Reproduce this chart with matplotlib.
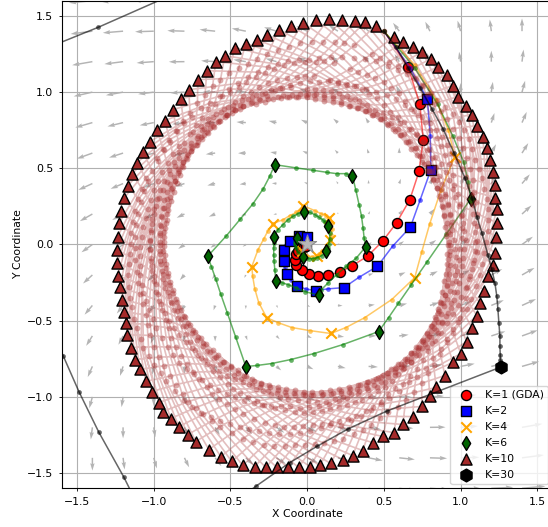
import matplotlib
matplotlib.use('agg')
import matplotlib.pyplot as plt
import numpy as np

plt.rcParams['font.size'] = 7.8

# linear vector field shown by the arrows: (u, v) = A @ (x, y)
field_A = [[1.0, -1.0], [0.72, 0.46]]

# K=1 (GDA)
k1_x = [0.5, 0.658, 0.734, 0.756, 0.729, 0.669, 0.582, 0.491, 0.393, 0.295, 0.213, 0.136,
        0.071, 0.012, -0.037, -0.070, -0.081, -0.075, -0.058, -0.038, -0.020, -0.006]
k1_y = [1.4, 1.163, 0.923, 0.688, 0.480, 0.295, 0.142, 0.021, -0.077, -0.138, -0.182, -0.202,
        -0.204, -0.191, -0.165, -0.132, -0.099, -0.065, -0.040, -0.024, -0.016, -0.012]

# K=2
k2_x = [0.5, 0.67, 0.783, 0.802, 0.806, 0.737, 0.673, 0.556, 0.458, 0.338, 0.239, 0.136, 0.059,
        -0.010, -0.065, -0.105, -0.131, -0.146, -0.151, -0.156, -0.153, -0.135, -0.113, -0.085,
        -0.055, -0.025, 0.0]
k2_y = [1.4, 1.16, 0.954, 0.715, 0.491, 0.295, 0.115, -0.012, -0.143, -0.215, -0.283, -0.291,
        -0.302, -0.292, -0.270, -0.235, -0.191, -0.150, -0.109, -0.072, -0.038, -0.005, 0.021,
        0.043, 0.055, 0.058, 0.050]

# K=4
k4_x = [0.5, 0.70, 0.84, 0.92, 0.962, 0.871, 0.799, 0.747, 0.701, 0.551, 0.375, 0.252, 0.154,
        0.017, -0.100, -0.192, -0.264, -0.316, -0.342, -0.355, -0.361, -0.320, -0.283, -0.255,
        -0.224, -0.157, -0.113, -0.070, -0.027, 0.050, 0.089, 0.121, 0.141, 0.160, 0.162, 0.157,
        0.147, 0.128, 0.095, 0.076, 0.061, 0.030, 0.0, -0.020, -0.035]
k4_y = [1.4, 1.18, 0.95, 0.75, 0.575, 0.356, 0.137, -0.047, -0.217, -0.361, -0.480, -0.545,
        -0.584, -0.565, -0.545, -0.512, -0.480, -0.381, -0.289, -0.210, -0.145, -0.033, 0.037,
        0.091, 0.137, 0.163, 0.190, 0.211, 0.255, 0.222, 0.203, 0.190, 0.175, 0.140, 0.100,
        0.062, 0.032, -0.014, -0.040, -0.060, -0.073, -0.080, -0.075, -0.062, -0.045]

# K=6
k6_x = [0.5, 0.70, 0.85, 0.95, 1.02, 1.05, 1.066, 0.907, 0.779, 0.677, 0.595, 0.530, 0.466,
        0.232, 0.043, -0.107, -0.231, -0.329, -0.400, -0.466, -0.520, -0.563, -0.596, -0.624,
        -0.648, -0.526, -0.435, -0.353, -0.287, -0.244, -0.211, -0.074, 0.038, 0.126, 0.191,
        0.250, 0.295, 0.317, 0.338, 0.354, 0.364, 0.371, 0.380, 0.321, 0.256, 0.191, 0.136,
        0.093, 0.078, -0.016, -0.074, -0.126, -0.166, -0.192, -0.205, -0.211, -0.216, -0.218,
        -0.218, -0.218, -0.218, -0.190, -0.157, -0.125, -0.092, -0.059, -0.022, 0.017, 0.050,
        0.078, 0.100, 0.119, 0.136, 0.147, 0.147, 0.141, 0.134, 0.128, 0.125, 0.095, 0.063,
        0.037, 0.010, -0.009, -0.029, -0.061, -0.074, -0.081, -0.081, -0.074, -0.068]
k6_y = [1.4, 1.16, 0.92, 0.71, 0.54, 0.41, 0.301, 0.069, -0.117, -0.266, -0.385, -0.480, -0.571,
        -0.657, -0.716, -0.755, -0.781, -0.794, -0.801, -0.608, -0.451, -0.327, -0.227, -0.146,
        -0.077, 0.058, 0.168, 0.268, 0.365, 0.448, 0.524, 0.503, 0.487, 0.474, 0.465, 0.465,
        0.452, 0.356, 0.262, 0.185, 0.109, 0.043, -0.016, -0.088, -0.143, -0.198, -0.252,
        -0.296, -0.333, -0.309, -0.283, -0.263, -0.250, -0.243, -0.237, -0.165, -0.110, -0.066,
        -0.022, 0.010, 0.050, 0.098, 0.131, 0.163, 0.185, 0.203, 0.216, 0.211, 0.196, 0.178,
        0.163, 0.146, 0.124, 0.078, 0.039, 0.006, -0.020, -0.033, -0.043, -0.073, -0.086,
        -0.093, -0.093, -0.086, -0.079, -0.047, -0.020, 0.0, 0.019, 0.032, 0.045]

# K=10: the triangles (one every 10 steps), listed clockwise round the ring
k10_x = [0.5, 0.565, 0.623, 0.688, 0.750, 0.808, 0.854, 0.910, 0.949, 0.982, 1.034, 1.073, 1.106,
         1.145, 1.171, 1.190, 1.210, 1.223, 1.223, 1.236, 1.236, 1.229, 1.223, 1.210, 1.177,
         1.151, 1.125, 1.106, 1.073, 1.040, 1.001, 0.949, 0.897, 0.841, 0.799, 0.747, 0.688,
         0.623, 0.565, 0.493, 0.428, 0.362, 0.297, 0.232, 0.154, 0.082, 0.017, -0.055, -0.126,
         -0.198, -0.270, -0.342, -0.420, -0.492, -0.563, -0.641, -0.726, -0.778, -0.837, -0.889,
         -0.941, -0.967, -1.013, -1.052, -1.091, -1.124, -1.150, -1.176, -1.183, -1.196, -1.209,
         -1.222, -1.235, -1.238, -1.241, -1.235, -1.228, -1.215, -1.196, -1.170, -1.143, -1.111,
         -1.072, -1.026, -0.980, -0.928, -0.876, -0.824, -0.772, -0.713, -0.654, -0.596, -0.537,
         -0.472, -0.400, -0.329, -0.264, -0.185, -0.107, -0.029, 0.056, 0.141, 0.226, 0.310,
         0.375, 0.447]
k10_y = [1.4, 1.364, 1.331, 1.299, 1.266, 1.220, 1.167, 1.115, 1.043, 0.970, 0.911, 0.852, 0.780,
         0.708, 0.636, 0.557, 0.478, 0.393, 0.308, 0.230, 0.144, 0.052, -0.053, -0.132, -0.210,
         -0.302, -0.381, -0.466, -0.545, -0.637, -0.716, -0.774, -0.860, -0.938, -0.997, -1.063,
         -1.129, -1.181, -1.234, -1.260, -1.300, -1.352, -1.385, -1.411, -1.437, -1.450, -1.457,
         -1.463, -1.463, -1.463, -1.463, -1.457, -1.450, -1.424, -1.392, -1.346, -1.293, -1.247,
         -1.195, -1.142, -1.096, -1.037, -0.965, -0.899, -0.820, -0.755, -0.676, -0.591, -0.512,
         -0.440, -0.361, -0.282, -0.204, -0.119, -0.033, 0.052, 0.138, 0.223, 0.302, 0.387, 0.465,
         0.537, 0.610, 0.675, 0.754, 0.813, 0.885, 0.957, 1.016, 1.082, 1.141, 1.200, 1.240,
         1.292, 1.318, 1.344, 1.377, 1.410, 1.436, 1.456, 1.476, 1.482, 1.476, 1.465, 1.458, 1.436]
# each block of 10 steps jumps about 29 triangles further round (~100 deg clockwise)
k10_jump = 29
# the 9 inner steps of a block: share of the turn done, and how far in (radius factor)
k10_turn = [0.16, 0.31, 0.45, 0.57, 0.68, 0.77, 0.85, 0.91, 0.96]
k10_depth = [0.89, 0.80, 0.745, 0.715, 0.71, 0.72, 0.755, 0.815, 0.90]

# K=30
k30_x = [0.5, 0.577, 0.656, 0.734, 0.812, 0.884, 0.956, 1.027, 1.073, 1.106, 1.138, 1.177, 1.203,
         1.223, 1.236, 1.243, 1.249, 1.256, 1.256, 1.258, 1.259, 1.259, 1.260, 1.260, 1.260,
         1.260, 1.260, 1.260, 1.260, 1.260, 1.260,
         0.517, 0.267, 0.065, -0.113, -0.335, -0.62, -0.998, -1.196, -1.359, -1.487, -1.591,
         -1.69, -1.80, -1.363, -0.80]
k30_y = [1.4, 1.299, 1.161, 1.030, 0.892, 0.761, 0.603, 0.439, 0.308, 0.183, 0.078, -0.066,
         -0.164, -0.250, -0.341, -0.426, -0.512, -0.603, -0.669, -0.722, -0.755, -0.775, -0.788,
         -0.795, -0.799, -0.801, -0.802, -0.803, -0.804, -0.804, -0.805,
         -1.094, -1.210, -1.324, -1.431, -1.587, -1.80, -1.923, -1.525, -1.230, -0.967, -0.729,
         -0.50, 1.247, 1.425, 1.675]

series = [
    ('K=1 (GDA)', k1_x, k1_y, 1, 'red', 'o', 52),
    ('K=2', k2_x, k2_y, 2, 'blue', 's', 46),
    ('K=4', k4_x, k4_y, 4, 'orange', 'x', 56),
    ('K=6', k6_x, k6_y, 6, 'darkgreen', 'd', 50),
]

fig = plt.figure(figsize=(5.48, 5.27), dpi=100)
ax = fig.add_axes([61.7 / 548, 38.7 / 527, 491 / 548, 487.6 / 527])

gx, gy = np.meshgrid(np.arange(-1.6, 1.61, 0.2), np.arange(-1.6, 1.61, 0.2))
A = np.array(field_A)
u = A[0, 0] * gx + A[0, 1] * gy
v = A[1, 0] * gx + A[1, 1] * gy
ax.quiver(gx, gy, u, v, color='#b4b4b4', angles='xy', scale_units='xy', scale=19.7,
          width=0.003, zorder=1)

z = 3
for label, xs, ys, k, col, mk, size in series:
    line_col = 'green' if col == 'darkgreen' else col
    ax.plot(xs, ys, '-', color=line_col, alpha=0.6, lw=1.1, zorder=z)
    if k > 1:
        ax.plot(xs, ys, 'o', color=line_col, alpha=0.6, ms=3.4, mec='none', zorder=z)
    mx, my = xs[k::k], ys[k::k]
    if mk == 'x':
        ax.scatter(mx, my, s=size, marker=mk, color=col, linewidths=1.5, zorder=z + 1, label=label)
    else:
        ax.scatter(mx, my, s=size, marker=mk, color=col, edgecolors='black', linewidths=1.0,
                   zorder=z + 1, label=label)
    z += 2

# K=10 path: each block runs from one triangle to the one k10_jump places further,
# dipping inwards on the way
n = len(k10_x)
bx, by = [], []
i = 0
for _ in range(n - 1):
    j = (i + k10_jump) % n
    r0, a0 = np.hypot(k10_x[i], k10_y[i]), np.arctan2(k10_y[i], k10_x[i])
    r1, a1 = np.hypot(k10_x[j], k10_y[j]), np.arctan2(k10_y[j], k10_x[j])
    da = (a0 - a1) % (2 * np.pi)
    bx.append(k10_x[i])
    by.append(k10_y[i])
    for f, d in zip(k10_turn, k10_depth):
        r = ((1 - f) * r0 + f * r1) * d
        a = a0 - f * da
        bx.append(r * np.cos(a))
        by.append(r * np.sin(a))
    i = j
bx.append(k10_x[i])
by.append(k10_y[i])
ax.plot(bx, by, '-', color='brown', alpha=0.3, lw=1.2, zorder=z)
ax.plot(bx, by, 'o', color='brown', alpha=0.4, ms=4.2, mec='none', zorder=z)
ax.scatter(k10_x[1:], k10_y[1:], s=64, marker='^', color='brown', edgecolors='black',
           linewidths=1.0, zorder=z + 1, label='K=10')
z += 2

ax.plot(k30_x, k30_y, '-', color='black', alpha=0.6, lw=1.1, zorder=z)
ax.plot(k30_x, k30_y, 'o', color='black', alpha=0.6, ms=3.4, mec='none', zorder=z)
ax.scatter([k30_x[30]], [k30_y[30]], s=85, marker='h', color='black', edgecolors='black',
           zorder=z + 1, label='K=30')

# equilibrium
ax.scatter([0], [0], s=190, marker='*', color='#b8b8b8', edgecolors='#8c8c8c', linewidths=0.8,
           zorder=z + 3)

ax.set_xlim(-1.6, 1.6)
ax.set_ylim(-1.6, 1.6)
ax.set_xticks([-1.5, -1.0, -0.5, 0.0, 0.5, 1.0, 1.5])
ax.set_yticks([-1.5, -1.0, -0.5, 0.0, 0.5, 1.0, 1.5])
ax.grid(True, color='#b0b0b0', lw=0.8)
ax.tick_params(length=2.5, width=0.6)
ax.set_xlabel('X Coordinate', labelpad=2)
ax.set_ylabel('Y Coordinate', labelpad=3)
ax.legend(loc='lower right', fontsize=7.8, labelspacing=0.55, borderaxespad=0.4)

fig.savefig('out.png', dpi=100)
